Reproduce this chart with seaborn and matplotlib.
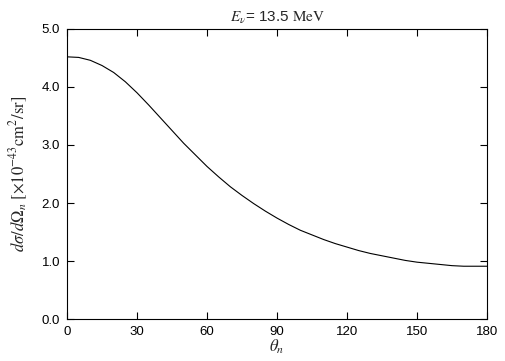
import numpy as np
import pandas as pd
import seaborn as sns
from matplotlib import pyplot as plt

theta = [0, 5, 10, 15, 20, 25, 30, 35, 40, 45, 50, 55, 60, 65, 70, 75, 80, 85, 90,
         95, 100, 105, 110, 115, 120, 125, 130, 135, 140, 145, 150, 155, 160, 165,
         170, 175, 180]
dsigma = [4.52, 4.51, 4.46, 4.37, 4.25, 4.09, 3.90, 3.69, 3.47, 3.25, 3.03, 2.83,
          2.63, 2.45, 2.28, 2.13, 1.99, 1.86, 1.74, 1.63, 1.53, 1.45, 1.37, 1.30,
          1.24, 1.18, 1.13, 1.09, 1.05, 1.01, 0.98, 0.96, 0.94, 0.92, 0.91, 0.91, 0.91]
xticks = [0, 30, 60, 90, 120, 150, 180]
yticks = [0.0, 1.0, 2.0, 3.0, 4.0, 5.0]

sns.set_style("ticks")
plt.rcParams['font.family'] = ['Liberation Sans', 'DejaVu Sans']
plt.rcParams['mathtext.fontset'] = 'stix'

data = pd.DataFrame({"theta": theta, "dsigma": dsigma})

fig = plt.figure(figsize=(5.05, 3.61), dpi=100)
ax = fig.add_axes([0.1327, 0.1163, 0.9644 - 0.1327, 0.9197 - 0.1163])
sns.lineplot(data=data, x="theta", y="dsigma", color="black", linewidth=0.8, ax=ax)

ax.set_xlim(0, 180)
ax.set_ylim(0, 5)
ax.set_xticks(xticks)
ax.set_yticks(yticks)
ax.set_yticklabels([f"{v:.1f}" for v in yticks])
ax.tick_params(direction="in", length=5, width=0.8, top=True, right=True,
               labelsize=9.5, colors="black", pad=5)
for s in ax.spines.values():
    s.set_linewidth(0.8)
    s.set_color("black")

ax.set_xlabel(r"$\theta_n$", fontsize=12, labelpad=0)
ax.set_ylabel(r"$d\sigma/d\Omega_n\ [\times10^{-43}\mathrm{cm}^2/\mathrm{sr}]$", fontsize=12, labelpad=8)
ax.set_title(r"$E_\nu$= 13.5 $\mathrm{MeV}$", fontsize=11, pad=5)

fig.savefig("out.png", dpi=100)
